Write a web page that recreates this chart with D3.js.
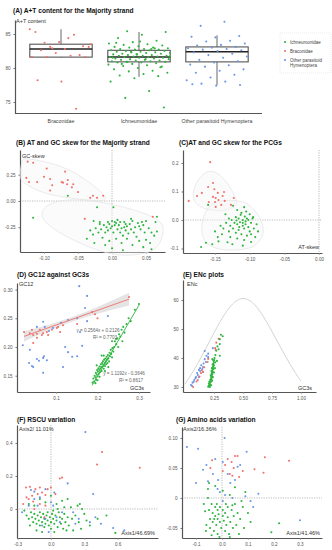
<!DOCTYPE html>
<html>
<head>
<meta charset="utf-8">
<script src="https://cdn.jsdelivr.net/npm/d3@7"></script>
<style>
  body { margin: 0; background: #fff; }
  svg { display: block; font-family: "Liberation Sans", Arial, sans-serif; }
  .title { font-size: 6.6px; font-weight: bold; fill: #111; }
  .axis-title { font-size: 5.5px; fill: #333; }
  .tick text { font-size: 4.6px; fill: #555; }
  .domain { stroke: #555; stroke-width: 1.2; }
  .tick line { stroke: #777; }
</style>
</head>
<body>
<div id="chart"></div>
<script>
var svgWidth = 332;
var svgHeight = 550;

var colors = { red: "#f0716b", green: "#2db53e", blue: "#6a95e8" };

// ---------- (A) A+T content ----------
var families = ["Braconidae", "Ichneumonidae", "Other parasitoid Hymenoptera"];
var atBraconidae = [85.7, 84.4, 83.7, 83.2, 83.8, 85.3, 84.9, 83.1, 83.1, 82.8, 82.6, 81.9, 82.2, 81.6,
  81.8, 81.6, 81.6, 78.0, 78.2, 74.0, 82.9, 83.5];
var atIchneumonidae = [85.4, 85.3, 84.9, 84.4, 84.0, 83.8, 83.6, 83.5, 83.4, 83.3, 83.2, 83.1, 83.0, 83.0,
  82.9, 82.8, 82.8, 82.7, 82.7, 82.6, 82.6, 82.5, 82.5, 82.4, 82.4, 82.3, 82.3, 82.2, 82.2, 82.1, 82.1,
  82.0, 82.0, 81.9, 81.9, 81.8, 81.8, 81.8, 81.7, 81.7, 81.6, 81.6, 81.6, 81.5, 81.5, 81.4, 81.4, 81.3,
  81.3, 81.2, 81.2, 81.1, 81.1, 81.0, 81.0, 80.9, 80.9, 80.8, 80.8, 80.7, 80.6, 80.5, 80.4, 80.3, 80.2,
  80.0, 79.8, 79.6, 79.5, 79.3, 79.1, 78.9, 78.8, 78.5, 78.0, 76.6, 75.6, 74.2, 83.9, 83.7, 82.9, 82.4,
  81.7, 81.3, 80.6, 80.1, 82.0, 81.5, 82.8, 80.9];
var atOther = [86.8, 86.2, 84.7, 84.5, 84.6, 84.0, 83.9, 83.6, 83.4, 83.3, 83.1, 83.0, 82.9, 82.8, 82.7,
  82.6, 82.5, 82.3, 82.1, 81.9, 81.7, 81.5, 81.2, 81.0, 80.8, 80.5, 80.4, 80.2, 79.8, 79.6, 79.3, 79.0,
  78.6, 78.2, 78.0, 77.7, 77.5, 77.4, 77.6];
// [lower whisker, q1, median, q3, upper whisker]
var atBoxes = [[81.5, 81.6, 82.8, 83.5, 85.7], [78.7, 80.9, 81.6, 82.6, 85.3], [77.5, 80.9, 82.4, 83.1, 84.8]];
var atTicks = [75, 80, 85];
var legendLabels = [["Ichneumonidae"], ["Braconidae"], ["Other parasitoid", "Hymenoptera"]];

// ---------- (B) AT / GC skew, majority strand  [AT-skew, GC-skew] ----------
var skewMajRed = [[-0.124, 0.375], [-0.116, 0.365], [-0.096, 0.31], [-0.069, 0.28], [-0.126, 0.22], [-0.1, 0.23],
  [-0.122, 0.18], [-0.11, 0.18], [-0.091, 0.21], [-0.088, 0.15], [-0.074, 0.18], [-0.072, 0.175], [-0.065, 0.2],
  [-0.066, 0.16], [-0.057, 0.16], [-0.059, 0.13], [-0.091, 0.1], [-0.05, 0.085], [-0.032, 0.03], [-0.028, 0.05],
  [-0.022, 0.03], [-0.013, 0.05]];
// two Braconidae genomes that fall among the Ichneumonidae
var skewMajRedStray = [[-0.04, -0.17], [0.06, -0.15]];
var skewMajGreen = [[-0.037, -0.36], [-0.027, -0.19], [-0.022, -0.06], [0.002, -0.06], [0.004, -0.2], [-0.018, -0.2],
  [-0.012, -0.23], [-0.008, -0.25], [-0.004, -0.22], [0.0, -0.24], [0.006, -0.21], [0.01, -0.23], [0.014, -0.26],
  [0.018, -0.2], [0.022, -0.24], [0.026, -0.22], [0.03, -0.19], [0.034, -0.25], [0.038, -0.21], [0.042, -0.27],
  [0.046, -0.23], [0.05, -0.19], [0.054, -0.26], [0.058, -0.3], [0.062, -0.33], [0.066, -0.29], [0.064, -0.2],
  [-0.016, -0.27], [-0.02, -0.3], [-0.024, -0.26], [-0.028, -0.32], [-0.032, -0.28], [-0.01, -0.3], [-0.006, -0.28],
  [0.002, -0.3], [0.008, -0.27], [0.012, -0.3], [0.016, -0.33], [0.02, -0.28], [0.024, -0.31], [0.028, -0.27],
  [0.032, -0.3], [0.036, -0.34], [0.04, -0.24], [0.044, -0.2], [0.048, -0.3], [-0.014, -0.35], [-0.004, -0.38],
  [0.006, -0.36], [0.014, -0.4], [0.022, -0.36], [0.03, -0.42], [0.04, -0.38], [0.05, -0.37], [0.056, -0.4],
  [-0.026, -0.4], [-0.01, -0.42], [0.0, -0.45], [0.016, -0.47], [0.046, -0.44], [0.058, -0.46], [-0.018, -0.22],
  [0.0, -0.19], [0.008, -0.18], [-0.006, -0.2], [0.02, -0.22], [0.028, -0.17], [0.012, -0.2], [-0.002, -0.26],
  [0.004, -0.23], [0.018, -0.25], [-0.116, -0.16], [-0.065, 0.05], [0.066, -0.15]];

// ---------- (C) AT / GC skew, PCGs ----------
var skewPcgRed = [[-0.157, 0.203], [-0.153, 0.13], [-0.16, 0.116], [-0.169, 0.095], [-0.176, 0.084], [-0.188, 0.067],
  [-0.151, 0.108], [-0.146, 0.095], [-0.149, 0.077], [-0.145, 0.07], [-0.139, 0.084], [-0.153, 0.081],
  [-0.15, 0.063], [-0.141, 0.053], [-0.136, 0.067], [-0.149, 0.046], [-0.159, 0.063], [-0.127, 0.053],
  [-0.137, 0.098], [-0.123, 0.077]];
var skewPcgGreen = [[-0.16, 0.053], [-0.124, 0.05], [-0.108, 0.045], [-0.105, 0.03], [-0.118, 0.035], [-0.112, 0.025],
  [-0.1, 0.02], [-0.095, 0.01], [-0.13, 0.005], [-0.126, 0.0], [-0.12, 0.01], [-0.116, 0.005], [-0.11, 0.0],
  [-0.106, -0.005], [-0.102, 0.0], [-0.098, -0.01], [-0.122, -0.01], [-0.118, -0.015], [-0.114, -0.008],
  [-0.11, -0.02], [-0.106, -0.015], [-0.102, -0.025], [-0.128, -0.02], [-0.134, -0.01], [-0.138, -0.03],
  [-0.124, -0.03], [-0.116, -0.035], [-0.108, -0.03], [-0.1, -0.04], [-0.094, -0.03], [-0.09, -0.015],
  [-0.13, -0.04], [-0.12, -0.045], [-0.112, -0.05], [-0.104, -0.055], [-0.098, -0.05], [-0.14, -0.05],
  [-0.146, -0.06], [-0.128, -0.06], [-0.118, -0.065], [-0.108, -0.07], [-0.15, -0.04], [-0.142, -0.02],
  [-0.135, 0.02], [-0.113, 0.018], [-0.107, 0.012], [-0.119, -0.002], [-0.104, 0.005], [-0.11, -0.01],
  [-0.115, -0.025], [-0.163, -0.08], [-0.154, -0.085], [-0.145, -0.075], [-0.132, -0.078], [-0.098, -0.077],
  [-0.125, -0.085], [-0.11, -0.09], [-0.17, -0.095], [-0.092, -0.06], [-0.088, -0.04], [-0.096, 0.005]];

// ---------- (D) GC12 against GC3s  [GC3s, GC12] ----------
var gcRed = [[0.023, 0.226], [0.037, 0.224], [0.042, 0.23], [0.045, 0.221], [0.054, 0.223], [0.061, 0.23],
  [0.066, 0.221], [0.069, 0.224], [0.078, 0.226], [0.081, 0.221], [0.09, 0.23], [0.102, 0.233], [0.105, 0.235],
  [0.117, 0.238], [0.054, 0.216], [0.194, 0.257], [0.187, 0.261], [0.276, 0.287], [0.045, 0.207], [0.11, 0.226],
  [0.151, 0.24], [0.2, 0.25]];
var gcBlue = [[0.156, 0.306], [0.175, 0.289], [0.17, 0.268], [0.225, 0.254], [0.175, 0.245], [0.151, 0.25],
  [0.129, 0.247], [0.112, 0.242], [0.069, 0.244], [0.054, 0.235], [0.073, 0.235], [0.093, 0.233], [0.083, 0.228],
  [0.02, 0.203], [0.037, 0.195], [0.035, 0.172], [0.042, 0.167], [0.054, 0.179], [0.059, 0.176], [0.069, 0.181],
  [0.071, 0.184], [0.078, 0.177], [0.069, 0.155], [0.045, 0.165], [0.129, 0.191], [0.122, 0.2], [0.151, 0.184],
  [0.163, 0.202], [0.139, 0.183], [0.117, 0.165], [0.158, 0.226]];
var gcGreen = [[0.188, 0.138], [0.19, 0.145], [0.192, 0.14], [0.193, 0.15], [0.195, 0.147], [0.196, 0.155],
  [0.197, 0.143], [0.198, 0.152], [0.199, 0.16], [0.2, 0.149], [0.201, 0.157], [0.202, 0.163], [0.203, 0.153],
  [0.204, 0.16], [0.205, 0.166], [0.206, 0.156], [0.207, 0.162], [0.208, 0.17], [0.209, 0.165], [0.21, 0.158],
  [0.211, 0.172], [0.212, 0.166], [0.213, 0.175], [0.214, 0.169], [0.215, 0.162], [0.216, 0.178], [0.217, 0.172],
  [0.218, 0.167], [0.219, 0.18], [0.22, 0.175], [0.221, 0.17], [0.222, 0.183], [0.223, 0.178], [0.224, 0.172],
  [0.225, 0.186], [0.226, 0.18], [0.228, 0.175], [0.229, 0.19], [0.23, 0.184], [0.232, 0.195], [0.233, 0.188],
  [0.235, 0.182], [0.236, 0.198], [0.238, 0.192], [0.24, 0.2], [0.242, 0.21], [0.245, 0.205], [0.248, 0.215],
  [0.25, 0.2], [0.252, 0.222], [0.255, 0.218], [0.258, 0.23], [0.26, 0.21], [0.262, 0.235], [0.265, 0.225],
  [0.27, 0.24], [0.275, 0.25], [0.28, 0.245], [0.29, 0.265], [0.3, 0.275], [0.2, 0.142], [0.205, 0.148],
  [0.195, 0.137], [0.215, 0.185], [0.198, 0.168], [0.235, 0.21], [0.21, 0.185], [0.245, 0.214], [0.218, 0.158],
  [0.226, 0.165]];
var redFit = { slope: 0.2564, intercept: 0.2126, from: 0.023, to: 0.276 };
// confidence half-width of the red fit at a few GC3s values
var redBand = [[0.023, 0.009], [0.08, 0.005], [0.13, 0.004], [0.2, 0.006], [0.276, 0.011]];
var greenLine = [[0.187, 0.133], [0.3, 0.273]];
var fitTexts = [["y = 0.2564x + 0.2126", "R\u00b2 = 0.7703"], ["y = 1.1192x - 0.3646", "R\u00b2 = 0.8617"]];

// ---------- (E) ENc plots  [GC3s, ENc] ----------
var encBlue = [[0.052, 30.7], [0.08, 32.4], [0.095, 33.4], [0.11, 34.1], [0.12, 35.9], [0.155, 36.9], [0.17, 39.6],
  [0.2, 40.3], [0.18, 38.6], [0.17, 42.4], [0.24, 43.4], [0.155, 35.2], [0.12, 33.4], [0.065, 31.5], [0.09, 33],
  [0.13, 36.5], [0.14, 37.5], [0.16, 38.1], [0.185, 40.8], [0.2, 41.5], [0.105, 34.8], [0.075, 31.8], [0.06, 30.4],
  [0.15, 36.2], [0.13, 35.5]];
var encRed = [[0.07, 30.0], [0.11, 32.4], [0.138, 34.8], [0.155, 35.2], [0.2, 39.7], [0.195, 38.6], [0.29, 46.6],
  [0.27, 45.3], [0.145, 35.8], [0.165, 36.8], [0.125, 33.6], [0.1, 31.9], [0.26, 43.4], [0.265, 42.8]];
var encGreen = [[0.2, 30.1], [0.205, 30.5], [0.21, 30.3], [0.212, 31], [0.215, 31.5], [0.218, 30.8], [0.22, 32],
  [0.222, 32.5], [0.224, 31.8], [0.225, 33], [0.226, 33.5], [0.228, 32.8], [0.23, 34], [0.23, 34.6], [0.232, 33.7],
  [0.234, 35], [0.235, 35.6], [0.236, 34.5], [0.238, 36], [0.24, 36.5], [0.24, 35.2], [0.242, 37], [0.243, 37.6],
  [0.245, 36.2], [0.246, 38], [0.248, 38.6], [0.25, 37.4], [0.252, 39.3], [0.255, 40], [0.26, 38.5], [0.262, 41],
  [0.27, 42.5], [0.28, 44], [0.3, 46.5], [0.31, 48], [0.325, 47.5], [0.29, 43], [0.3, 40.8], [0.275, 39],
  [0.215, 30], [0.218, 32.5], [0.222, 34], [0.228, 35.5], [0.232, 36.5], [0.238, 37.8], [0.244, 39.2], [0.21, 31.8],
  [0.206, 31.2], [0.226, 30.6], [0.234, 32.2], [0.24, 33.4], [0.25, 35], [0.236, 39.6], [0.258, 36.5], [0.3, 44.8]];

// ---------- (F) RSCU variation  [Axis1, Axis2] ----------
var rscuBlue = [[0.31, 0.466], [0.15, 0.155], [0.38, 0.09], [-0.26, -0.02], [0.56, -0.115], [0.66, -0.13],
  [-0.18, 0.115], [-0.15, 0.105], [-0.05, 0.12], [0.03, 0.1], [-0.1, 0.07], [-0.12, 0.02], [-0.2, 0.02], [0.0, 0.04],
  [0.05, -0.05], [0.08, -0.08], [-0.05, -0.06], [0.2, -0.02], [0.22, -0.09], [0.25, -0.06], [0.35, -0.08],
  [0.4, -0.05], [-0.02, -0.14], [-0.08, -0.1], [0.1, -0.02], [-0.15, 0.06], [0.02, 0.02], [0.45, -0.09]];
var rscuRed = [[0.46, 0.345], [0.415, 0.27], [0.8, 0.25], [0.1, 0.19], [0.08, 0.185], [-0.225, 0.13], [-0.19, 0.135],
  [-0.14, 0.12], [-0.1, 0.13], [-0.25, 0.03], [-0.2, 0.06], [-0.17, 0.08], [-0.12, 0.09], [-0.08, 0.1], [-0.05, 0.085],
  [-0.03, 0.12], [0.0, 0.13], [-0.22, 0.07], [-0.16, 0.045], [-0.1, 0.03], [-0.06, -0.05], [0.04, 0.09],
  [-0.15, 0.0], [-0.05, 0.02]];
var rscuGreen = [[-0.24, -0.01], [-0.22, -0.04], [-0.2, -0.06], [-0.18, -0.02], [-0.17, -0.05], [-0.16, -0.08],
  [-0.15, -0.03], [-0.14, -0.06], [-0.13, -0.09], [-0.12, -0.04], [-0.11, -0.07], [-0.1, -0.02], [-0.1, -0.1],
  [-0.09, -0.05], [-0.08, -0.08], [-0.07, -0.03], [-0.06, -0.06], [-0.06, -0.11], [-0.05, -0.09], [-0.04, -0.04],
  [-0.03, -0.07], [-0.02, -0.1], [-0.01, -0.05], [0.0, -0.08], [0.0, -0.12], [0.01, -0.03], [0.02, -0.06],
  [0.03, -0.09], [0.04, -0.04], [0.05, -0.07], [0.06, -0.11], [0.07, -0.02], [0.08, -0.05], [0.09, -0.09],
  [0.1, -0.06], [0.11, -0.12], [0.12, -0.03], [0.13, -0.08], [0.15, -0.05], [0.16, -0.1], [0.18, 0.01],
  [0.19, -0.06], [0.2, -0.13], [0.22, -0.04], [0.24, 0.02], [0.25, -0.08], [0.27, -0.12], [0.3, -0.03],
  [0.32, -0.07], [0.35, -0.1], [0.5, -0.04], [0.58, -0.145], [0.26, 0.03], [0.15, 0.06], [0.0, 0.08], [-0.1, 0.06],
  [-0.2, 0.03], [-0.15, 0.02], [-0.05, 0.04], [0.05, 0.03], [0.1, 0.05], [-0.13, -0.13], [-0.08, -0.14],
  [-0.03, -0.02], [0.02, -0.01], [0.06, 0.0], [-0.19, -0.1], [0.12, 0.01], [0.28, 0.0], [0.42, -0.06],
  [0.14, -0.13], [0.03, -0.14]];

// ---------- (G) Amino acids variation  [Axis1, Axis2] ----------
var aaBlue = [[-0.135, 0.085], [-0.092, 0.082], [0.01, 0.1], [0.095, 0.077], [0.3, -0.037], [-0.073, 0.047],
  [-0.06, 0.055], [-0.054, 0.028], [-0.1, 0.025], [-0.035, 0.04], [-0.015, 0.03], [0.003, 0.06], [0.022, 0.04],
  [0.032, 0.025], [0.05, 0.03], [0.06, 0.052], [-0.008, 0.01], [0.012, 0.005], [0.04, 0.0], [0.09, 0.003],
  [0.11, -0.005], [0.14, 0.007], [0.12, -0.015], [0.003, -0.005], [-0.017, 0.015], [0.07, 0.055], [-0.026, 0.065]];
var aaRed = [[0.165, 0.068], [0.258, 0.062], [0.16, 0.042], [0.022, 0.065], [0.037, 0.06], [0.05, 0.07],
  [0.003, 0.045], [0.045, 0.05], [0.08, 0.045], [0.066, 0.035], [0.03, 0.04], [0.04, 0.037], [-0.038, 0.063],
  [-0.045, 0.05], [0.012, 0.055], [0.06, 0.07], [0.125, 0.048]];
var aaGreen = [[-0.07, -0.01], [-0.065, -0.022], [-0.06, -0.045], [-0.054, 0.0], [-0.05, -0.02], [-0.046, -0.035],
  [-0.046, -0.05], [-0.04, -0.01], [-0.036, -0.025], [-0.036, -0.04], [-0.031, -0.055], [-0.026, -0.015],
  [-0.026, -0.03], [-0.022, -0.045], [-0.017, -0.02], [-0.017, -0.035], [-0.017, -0.06], [-0.013, -0.027],
  [-0.008, -0.04], [-0.008, -0.015], [-0.003, -0.05], [0.003, -0.03], [0.003, -0.02], [0.007, -0.038],
  [0.012, -0.025], [0.012, -0.055], [0.017, -0.045], [0.022, -0.015], [0.022, -0.032], [0.027, -0.06],
  [0.032, -0.04], [0.037, -0.02], [0.042, -0.05], [0.045, -0.03], [0.05, -0.01], [0.055, -0.045], [0.06, -0.025],
  [0.065, -0.06], [0.07, -0.035], [0.08, -0.015], [0.085, -0.05], [0.1, -0.025], [0.11, -0.04], [0.19, -0.057],
  [0.22, -0.042], [-0.054, 0.015], [-0.026, 0.02], [0.003, 0.012], [0.03, 0.005], [-0.04, -0.062],
  [-0.01, -0.065], [0.03, -0.065], [-0.05, 0.025], [0.05, 0.018], [-0.02, -0.01], [-0.03, -0.035],
  [0.015, -0.01], [0.04, -0.012], [-0.062, -0.055], [0.075, -0.005], [0.09, 0.01]];

var svg = d3.select("#chart")
  .append("svg")
  .attr("width", svgWidth)
  .attr("height", svgHeight);

svg.append("rect").attr("width", svgWidth).attr("height", svgHeight).attr("fill", "#fff");

function fixed(n) { return d => d.toFixed(n); }

// builds a scatter panel: scales, axes, title, dashed zero lines
function makePanel(p) {
  var x = d3.scaleLinear().domain(p.xDomain).range([p.left, p.right]);
  var y = d3.scaleLinear().domain(p.yDomain).range([p.bottom, p.top]);
  var g = svg.append("g");

  g.append("text").attr("class", "title").attr("x", p.titleX).attr("y", p.titleY).text(p.title);

  if (p.zeroLines) {
    g.append("line")
      .attr("x1", x(0)).attr("x2", x(0)).attr("y1", p.top).attr("y2", p.bottom)
      .attr("stroke", "#aaa").attr("stroke-width", 0.8).attr("stroke-dasharray", "1.2,1.2");
    g.append("line")
      .attr("x1", p.left).attr("x2", p.right).attr("y1", y(0)).attr("y2", y(0))
      .attr("stroke", "#aaa").attr("stroke-width", 0.8).attr("stroke-dasharray", "1.2,1.2");
  }

  g.append("g")
    .attr("transform", `translate(0, ${p.bottom})`)
    .call(d3.axisBottom(x).tickValues(p.xTicks).tickFormat(p.xFormat).tickSize(1.5).tickSizeOuter(0).tickPadding(3));
  g.append("g")
    .attr("transform", `translate(${p.left}, 0)`)
    .call(d3.axisLeft(y).tickValues(p.yTicks).tickFormat(p.yFormat).tickSize(1.5).tickSizeOuter(0).tickPadding(3));

  p.labels.forEach(function(l) {
    g.append("text").attr("class", "axis-title")
      .attr("x", l[1]).attr("y", l[2])
      .attr("text-anchor", l[3] || "start")
      .text(l[0]);
  });
  return { g: g, x: x, y: y };
}

function drawPoints(panel, pts, color) {
  panel.g.append("g").selectAll("circle")
    .data(pts)
    .enter()
    .append("circle")
    .attr("cx", d => panel.x(d[0]))
    .attr("cy", d => panel.y(d[1]))
    .attr("r", 1.05)
    .attr("fill", color);
}

// faint rounded hull around a group
function drawHull(panel, pts, pad) {
  var px = pts.map(d => [panel.x(d[0]), panel.y(d[1])]);
  var hull = d3.polygonHull(px);
  var c = d3.polygonCentroid(hull);
  var padded = hull.map(function(q) {
    var dx = q[0] - c[0], dy = q[1] - c[1], l = Math.hypot(dx, dy) || 1;
    return [q[0] + dx / l * pad, q[1] + dy / l * pad];
  });
  panel.g.append("path")
    .attr("d", d3.line().curve(d3.curveBasisClosed)(padded))
    .attr("fill", "#f4f4f4")
    .attr("fill-opacity", 0.4)
    .attr("stroke", "#e2e2e2")
    .attr("stroke-width", 0.7);
}

// ---------- panel A ----------
(function() {
  var left = 15, right = 262, top = 20, bottom = 113;
  var x = d3.scaleBand().domain(families).range([22, 256]);
  var y = d3.scaleLinear().domain([73.38, 87.06]).range([bottom, top]);
  var g = svg.append("g");
  var bw = x.bandwidth() * 0.8;

  g.append("text").attr("class", "title").attr("x", 13).attr("y", 12.5)
    .text("(A) A+T content for the Majority strand");

  g.append("g")
    .attr("transform", `translate(0, ${bottom})`)
    .call(d3.axisBottom(x).tickSize(0).tickPadding(6))
    .call(a => a.select(".domain").attr("d", `M${left},0.5H${right}`))
    .selectAll("text").style("font-size", "5.3px").style("fill", "#444");
  g.append("g")
    .attr("transform", `translate(${left}, 0)`)
    .call(d3.axisLeft(y).tickValues(atTicks).tickSize(1.5).tickSizeOuter(0).tickPadding(3));

  g.append("text").attr("class", "axis-title").attr("x", 16).attr("y", 23).text("A+T content");

  // boxes
  var boxes = g.selectAll(".box").data(atBoxes).enter().append("g");
  boxes.append("line")
    .attr("x1", (d, i) => x(families[i]) + x.bandwidth() / 2)
    .attr("x2", (d, i) => x(families[i]) + x.bandwidth() / 2)
    .attr("y1", d => y(d[0])).attr("y2", d => y(d[4]))
    .attr("stroke", "#555").attr("stroke-width", 0.9);
  boxes.append("rect")
    .attr("x", (d, i) => x(families[i]) + (x.bandwidth() - bw) / 2)
    .attr("width", bw)
    .attr("y", d => y(d[3]))
    .attr("height", d => y(d[1]) - y(d[3]))
    .attr("fill", "#fff").attr("stroke", "#555").attr("stroke-width", 1.1);
  boxes.append("line")
    .attr("x1", (d, i) => x(families[i]) + (x.bandwidth() - bw) / 2)
    .attr("x2", (d, i) => x(families[i]) + (x.bandwidth() + bw) / 2)
    .attr("y1", d => y(d[2])).attr("y2", d => y(d[2]))
    .attr("stroke", "#222").attr("stroke-width", 1.5);

  // jittered points
  var groups = [[atBraconidae, colors.red], [atIchneumonidae, colors.green], [atOther, colors.blue]];
  groups.forEach(function(grp, gi) {
    var cx = x(families[gi]) + x.bandwidth() / 2;
    g.append("g").selectAll("circle")
      .data(grp[0])
      .enter()
      .append("circle")
      .attr("cx", (d, i) => cx + (((i * 0.6180339 + gi * 0.31) % 1) - 0.5) * bw)
      .attr("cy", d => y(d))
      .attr("r", 1.05)
      .attr("fill", grp[1]);
  });

  // legend
  var lg = g.append("g").attr("transform", "translate(280, 33)");
  lg.append("rect").attr("width", 51).attr("height", 40)
    .attr("fill", "none").attr("stroke", "#ddd").attr("stroke-width", 0.6).attr("stroke-dasharray", "1,1");
  var legendColors = [colors.green, colors.red, colors.blue];
  legendLabels.forEach(function(lines, i) {
    lg.append("circle").attr("cx", 5).attr("cy", 9 + i * 9).attr("r", 1.05).attr("fill", legendColors[i]);
    lines.forEach(function(t, j) {
      lg.append("text").attr("x", 10).attr("y", 10.6 + i * 9 + j * 5)
        .style("font-size", "4.5px").style("fill", "#444").text(t);
    });
  });
})();

// ---------- panel B ----------
var pB = makePanel({
  title: "(B) AT and GC skew for the Majority strand", titleX: 16, titleY: 145,
  left: 20, right: 165, top: 150, bottom: 252,
  xDomain: [-0.1353, 0.0779], yDomain: [-0.486, 0.486],
  xTicks: [-0.10, -0.05, 0.00, 0.05], yTicks: [-0.25, 0, 0.25],
  xFormat: fixed(2), yFormat: fixed(2), zeroLines: true,
  labels: [["GC-skew", 22, 158]]
});
drawHull(pB, skewMajRed, 7);
drawHull(pB, skewMajGreen, 7);
drawPoints(pB, skewMajRed, colors.red);
drawPoints(pB, skewMajRedStray, colors.red);
drawPoints(pB, skewMajGreen, colors.green);

// ---------- panel C ----------
var pC = makePanel({
  title: "(C)AT and GC skew for the PCGs", titleX: 179, titleY: 145,
  left: 183, right: 322, top: 150, bottom: 253,
  xDomain: [-0.1962, 0.0043], yDomain: [-0.1158, 0.2456],
  xTicks: [-0.15, -0.10, -0.05, 0.00], yTicks: [-0.1, 0, 0.1, 0.2],
  xFormat: fixed(2), yFormat: fixed(1), zeroLines: true,
  labels: [["AT-skew", 319, 249, "end"]]
});
drawHull(pC, skewPcgRed, 6);
drawHull(pC, skewPcgGreen, 6);
drawPoints(pC, skewPcgRed, colors.red);
drawPoints(pC, skewPcgGreen, colors.green);

// ---------- panel D ----------
var pD = makePanel({
  title: "(D) GC12 against GC3s", titleX: 17, titleY: 277,
  left: 17, right: 150, top: 283, bottom: 392,
  xDomain: [0.006, 0.3265], yDomain: [0.1216, 0.3115],
  xTicks: [0.1, 0.2, 0.3], yTicks: [0.15, 0.2, 0.25, 0.3],
  xFormat: fixed(1), yFormat: fixed(2), zeroLines: false,
  labels: [["GC12", 19, 286], ["GC3s", 144, 390, "end"]]
});
pD.g.append("path")
  .datum(redBand)
  .attr("d", d3.area()
    .x(d => pD.x(d[0]))
    .y0(d => pD.y(redFit.intercept + redFit.slope * d[0] - d[1]))
    .y1(d => pD.y(redFit.intercept + redFit.slope * d[0] + d[1]))
    .curve(d3.curveMonotoneX))
  .attr("fill", "#d8d8d8").attr("fill-opacity", 0.7);
drawPoints(pD, gcBlue, colors.blue);
drawPoints(pD, gcRed, colors.red);
drawPoints(pD, gcGreen, colors.green);
pD.g.append("line")
  .attr("x1", pD.x(redFit.from)).attr("y1", pD.y(redFit.intercept + redFit.slope * redFit.from))
  .attr("x2", pD.x(redFit.to)).attr("y2", pD.y(redFit.intercept + redFit.slope * redFit.to))
  .attr("stroke", colors.red).attr("stroke-width", 0.9);
pD.g.append("line")
  .attr("x1", pD.x(greenLine[0][0])).attr("y1", pD.y(greenLine[0][1]))
  .attr("x2", pD.x(greenLine[1][0])).attr("y2", pD.y(greenLine[1][1]))
  .attr("stroke", colors.green).attr("stroke-width", 0.9);
[[98, 332], [124, 375]].forEach(function(pos, i) {
  fitTexts[i].forEach(function(t, j) {
    pD.g.append("text").attr("x", pos[0] + j * 7).attr("y", pos[1] + j * 6.5)
      .attr("text-anchor", "middle")
      .style("font-size", "4.6px").style("fill", "#666").text(t);
  });
});

// ---------- panel E ----------
var pE = makePanel({
  title: "(E) ENc plots", titleX: 183, titleY: 277,
  left: 183, right: 316, top: 280, bottom: 392,
  xDomain: [-0.0172, 1.1293], yDomain: [28.28, 66.9],
  xTicks: [0.25, 0.5, 0.75, 1.0], yTicks: [30, 40, 50, 60],
  xFormat: fixed(2), yFormat: d3.format("d"), zeroLines: false,
  labels: [["ENc", 187, 286], ["GC3s", 312, 390, "end"]]
});
// expected ENc = 2 + s + 29 / (s^2 + (1 - s)^2)
var expectedCurve = d3.range(0, 1.0001, 0.01).map(s => [s, 2 + s + 29 / (s * s + (1 - s) * (1 - s))]);
pE.g.append("path")
  .datum(expectedCurve)
  .attr("d", d3.line().x(d => pE.x(d[0])).y(d => pE.y(d[1])))
  .attr("fill", "none").attr("stroke", "#c8c8c8").attr("stroke-width", 0.8);
drawPoints(pE, encBlue, colors.blue);
drawPoints(pE, encRed, colors.red);
drawPoints(pE, encGreen, colors.green);

// ---------- panel F ----------
var pF = makePanel({
  title: "(F) RSCU variation", titleX: 17, titleY: 422,
  left: 17, right: 158, top: 425, bottom: 538,
  xDomain: [-0.306, 0.964], yDomain: [-0.176, 0.509],
  xTicks: [-0.3, 0, 0.3, 0.6], yTicks: [0, 0.2, 0.4],
  xFormat: fixed(1), yFormat: d => d === 0 ? "0" : d.toFixed(1), zeroLines: true,
  labels: [["Axis2/ 11.01%", 19, 431], ["Axis1/46.69%", 155, 535, "end"]]
});
drawPoints(pF, rscuGreen, colors.green);
drawPoints(pF, rscuBlue, colors.blue);
drawPoints(pF, rscuRed, colors.red);

// ---------- panel G ----------
var pG = makePanel({
  title: "(G) Amino acids variation", titleX: 176, titleY: 422,
  left: 182, right: 322, top: 427, bottom: 538,
  xDomain: [-0.154, 0.385], yDomain: [-0.0667, 0.1183],
  xTicks: [-0.1, 0, 0.1, 0.2, 0.3], yTicks: [-0.05, 0, 0.05, 0.1],
  xFormat: fixed(1), yFormat: d => d === 0 ? "0" : d.toFixed(2), zeroLines: true,
  labels: [["Axis2/16.36%", 183, 431], ["Axis1/41.46%", 320, 535, "end"]]
});
drawPoints(pG, aaGreen, colors.green);
drawPoints(pG, aaBlue, colors.blue);
drawPoints(pG, aaRed, colors.red);
</script>
</body>
</html>
